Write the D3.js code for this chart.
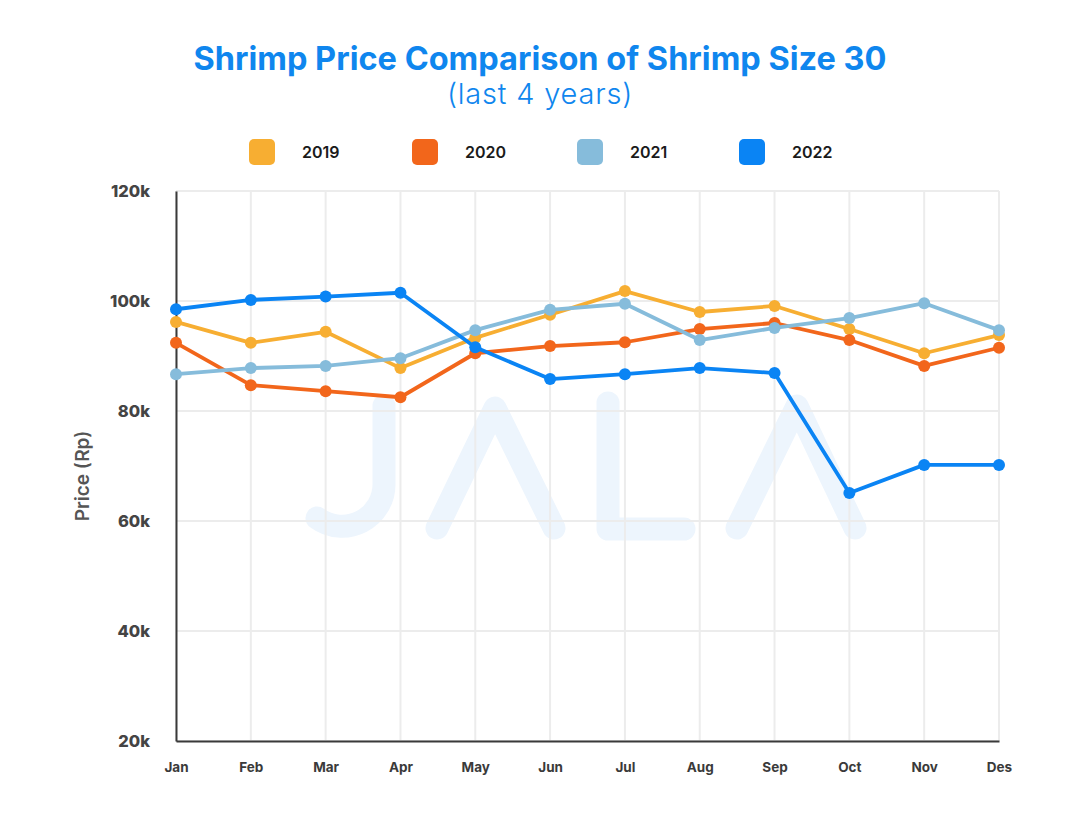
<!DOCTYPE html>
<html>
<head>
<meta charset="utf-8">
<script src="https://cdn.jsdelivr.net/npm/d3@7"></script>
<style>
  html, body { margin: 0; padding: 0; background: #fff; }
  svg { display: block; font-family: Inter, "Open Sans", "Noto Sans", sans-serif; }
</style>
</head>
<body>
<svg id="chart" width="1081" height="822"></svg>
<script>
const months = ["Jan","Feb","Mar","Apr","May","Jun","Jul","Aug","Sep","Oct","Nov","Des"];
const years = ["2019","2020","2021","2022"];
const price2019 = [96.2, 92.4, 94.4, 87.8, 93.3, 97.5, 101.8, 98.0, 99.1, 94.9, 90.5, 93.8];
const price2020 = [92.4, 84.7, 83.6, 82.5, 90.5, 91.8, 92.5, 94.9, 96.0, 92.9, 88.2, 91.5];
const price2021 = [86.7, 87.8, 88.2, 89.6, 94.7, 98.4, 99.5, 92.9, 95.1, 96.9, 99.6, 94.7];
const price2022 = [98.5, 100.2, 100.8, 101.5, 91.6, 85.8, 86.7, 87.8, 86.9, 65.1, 70.2, 70.2];
const yTicks = [20, 40, 60, 80, 100, 120];
const colors = ["#f7ae32", "#f2661b", "#86bcdb", "#0a84f4"];
const seriesValues = [price2019, price2020, price2021, price2022];

const svg = d3.select("#chart");
const x = d3.scalePoint().domain(months).range([176, 999]);
const y = d3.scaleLinear().domain([20, 120]).range([741, 191]);

// Title
svg.append("text").attr("x", 540).attr("y", 70).attr("text-anchor", "middle")
  .attr("fill", "#0f86ee").attr("font-size", 32.5).attr("font-weight", 700)
  .text("Shrimp Price Comparison of Shrimp Size 30");
svg.append("text").attr("x", 540).attr("y", 104).attr("text-anchor", "middle")
  .attr("fill", "#0f86ee").attr("font-size", 29).attr("font-weight", 300)
  .attr("letter-spacing", 0.8)
  .text("(last 4 years)");

// Legend
const legendX = [262, 425, 590, 752];
const lg = svg.append("g");
years.forEach((yr, i) => {
  lg.append("rect").attr("x", legendX[i] - 13).attr("y", 139).attr("width", 26).attr("height", 26)
    .attr("rx", 5).attr("fill", colors[i]);
  lg.append("text").attr("x", legendX[i] + 40).attr("y", 158).attr("fill", "#1a1a1a")
    .attr("font-size", 16).attr("font-weight", 600).text(yr);
});

// Watermark (decorative)
const wm = svg.append("g").attr("fill", "none").attr("stroke", "#edf5fd")
  .attr("stroke-width", 23).attr("stroke-linecap", "round").attr("stroke-linejoin", "round");
wm.append("path").attr("d", "M384,406 L384,483 A42,42 0 0 1 317,518");
wm.append("path").attr("d", "M437,528 L495,408 L554,528");
wm.append("path").attr("d", "M608,403 L608,529 L684,529");
wm.append("path").attr("d", "M737,528 L797,406 L855,528");

// Gridlines
const grid = svg.append("g").attr("stroke", "#ececec").attr("stroke-width", 2);
yTicks.forEach(t => {
  grid.append("line").attr("x1", 176).attr("x2", 999).attr("y1", y(t)).attr("y2", y(t));
});
months.forEach(m => {
  grid.append("line").attr("x1", x(m)).attr("x2", x(m)).attr("y1", 191).attr("y2", 741);
});

// Axes
const yAxis = d3.axisLeft(y).tickValues(yTicks).tickSize(0).tickPadding(26).tickFormat(d => d + "k");
const yg = svg.append("g").attr("transform", "translate(176,0)").call(yAxis);
yg.select(".domain").attr("stroke", "#3a3a3a").attr("stroke-width", 2);
yg.selectAll("text").attr("font-size", 16.5).attr("font-weight", 800).attr("fill", "#444")
  .attr("font-family", "Inter, 'Open Sans', sans-serif");

const xAxis = d3.axisBottom(x).tickSize(0).tickPadding(21);
const xg = svg.append("g").attr("transform", "translate(0,741)").call(xAxis);
xg.select(".domain").attr("stroke", "#3a3a3a").attr("stroke-width", 2);
xg.selectAll("text").attr("font-size", 13.5).attr("font-weight", 700).attr("fill", "#3a3a3a")
  .attr("font-family", "Inter, 'Open Sans', sans-serif");

// Y axis title
svg.append("text").attr("transform", "translate(89,476) rotate(-90)").attr("text-anchor", "middle")
  .attr("fill", "#555").attr("font-size", 19).attr("font-weight", 600).text("Price (Rp)");

// Lines
const line = d3.line().x((d, i) => x(months[i])).y(d => y(d));
seriesValues.forEach((vals, s) => {
  const g = svg.append("g");
  g.append("path").datum(vals).attr("d", line).attr("fill", "none")
    .attr("stroke", colors[s]).attr("stroke-width", 3.8).attr("stroke-linejoin", "round");
  g.selectAll("circle").data(vals).join("circle")
    .attr("cx", (d, i) => x(months[i])).attr("cy", d => y(d)).attr("r", 6)
    .attr("fill", colors[s]);
});
</script>
</body>
</html>
